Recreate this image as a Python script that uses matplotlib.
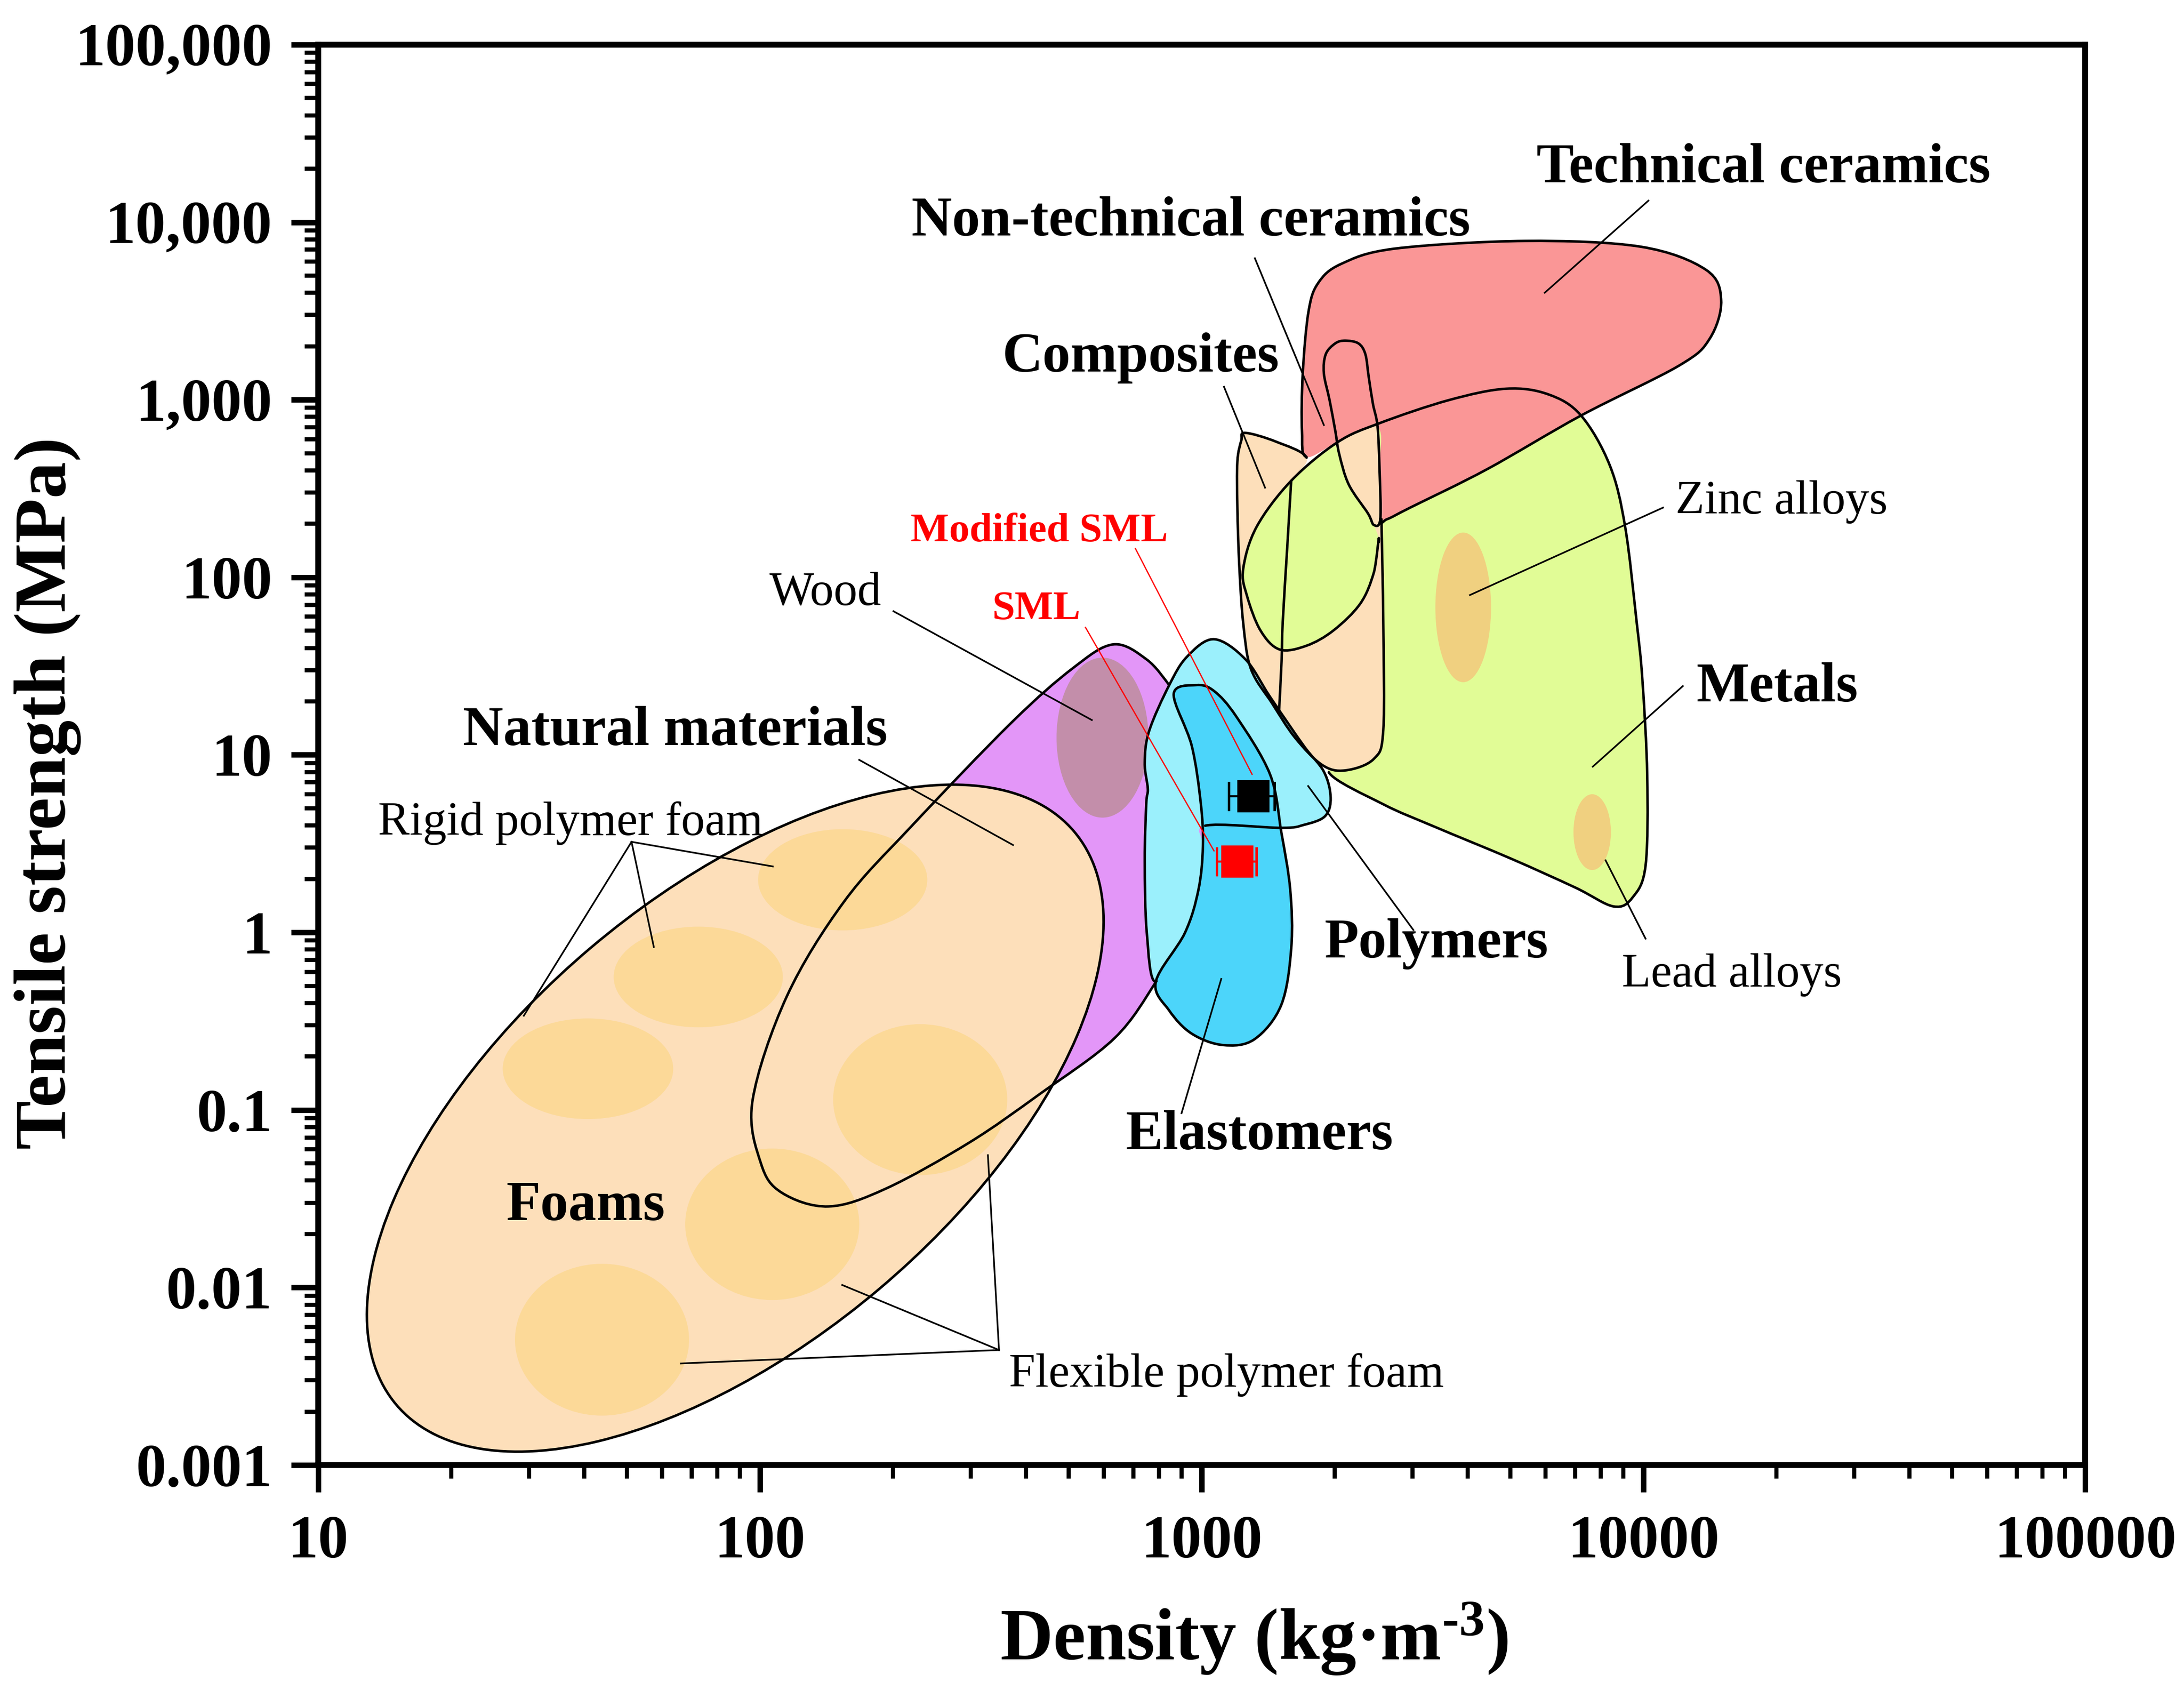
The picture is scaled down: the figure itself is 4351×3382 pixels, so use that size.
import numpy as np
import matplotlib
matplotlib.use('Agg')
import matplotlib.pyplot as plt
from matplotlib.path import Path
from matplotlib.patches import PathPatch
from matplotlib.transforms import Affine2D
from matplotlib.ticker import LogLocator, NullFormatter

plt.rcParams['font.family'] = ['Liberation Serif', 'DejaVu Serif']
plt.rcParams['mathtext.fontset'] = 'custom'
plt.rcParams['mathtext.rm'] = 'Liberation Serif:bold'
plt.rcParams['mathtext.bf'] = 'Liberation Serif:bold'
plt.rcParams['mathtext.it'] = 'Liberation Serif:bold:italic'

# axis ticks
x_ticks = [10, 100, 1000, 10000, 100000]
x_tick_labels = ['10', '100', '1000', '10000', '100000']
y_ticks = [1e-3, 1e-2, 1e-1, 1, 10, 100, 1e3, 1e4, 1e5]
y_tick_labels = ['0.001', '0.01', '0.1', '1', '10', '100', '1,000', '10,000', '100,000']

# foams envelope: centre (density, strength), semi-axes in x-decade lengths, tilt in degrees
foams = (87.9, 0.0899, 1.0046, 0.5056, 40.2)

# rigid / flexible foam cells: centre, width and height in decades
cell_density = [153.9, 72.5, 40.8, 230.5, 106.6, 43.9]
cell_strength = [1.978, 0.561, 0.1706, 0.1143, 0.0227, 0.00508]
cell_w = [0.383, 0.383, 0.386, 0.394, 0.394, 0.394]
cell_h = [0.570, 0.567, 0.567, 0.850, 0.853, 0.855]

# region outlines: density (kg/m3), tensile strength (MPa)
natural_density = [790, 635, 430, 298, 193, 143, 112, 100.5, 96.2, 115, 155, 220, 371, 511,
                   631, 751, 843, 864, 949, 995, 1006, 983, 916]
natural_strength = [0.532, 0.254, 0.123, 0.0656, 0.0361, 0.0286, 0.0342, 0.050, 0.113, 0.436,
                    1.49, 3.95, 15.2, 30.8, 41.9, 34.4, 24.8, 22.0, 11.26, 5.33, 3.05, 1.74, 0.994]

wood = (596, 12.5, 0.208, 0.901)
zinc = (3907, 67.7, 0.126, 0.843)
lead = (7653, 3.67, 0.0848, 0.427)

elast_density = [971, 1066, 1198, 1428, 1514, 1586, 1595, 1514, 1316, 1117, 949, 844, 787,
                 916, 983, 1006, 995, 949, 864]
elast_strength = [24.7, 22.9, 16.4, 7.75, 3.67, 1.74, 0.825, 0.391, 0.250, 0.232, 0.269,
                  0.363, 0.527, 0.994, 1.74, 3.05, 5.33, 11.26, 22.0]

poly_density = [787, 751, 743, 749, 755, 743, 760, 844, 927, 1066, 1256, 1428, 1701, 1890,
                1958, 1901, 1701, 1514, 1018, 1006, 983, 916]
poly_strength = [0.527, 0.994, 2.53, 5.33, 6.43, 9.0, 13.6, 24.7, 35.8, 44.8, 34.5, 21.2,
                 11.26, 8.04, 5.75, 4.51, 4.03, 3.88, 3.99, 3.05, 1.74, 0.994]

metal_density = [2516, 2451, 2285, 1987, 1727, 1501, 1358, 1266, 1241, 1331, 1594, 2027, 2526,
                 3621, 4889, 6090, 7221, 8389, 9088, 9652, 9942, 10195, 10110, 9459, 8558,
                 7003, 5017, 3363, 2575, 1939, 2200, 2400]
metal_strength = [157.7, 105.9, 71.1, 50.2, 41.2, 39.2, 50.2, 78.6, 111.3, 192.4, 349.8, 575.3,
                  737.9, 994.5, 1154, 1072, 815, 426.7, 192.4, 55.5, 26.5, 7.65, 2.39, 1.58,
                  1.40, 1.79, 2.60, 3.94, 5.27, 7.98, 10.5, 30]

comp_density = [2551, 2576, 2576, 2451, 2110, 1871, 1626, 1443, 1292, 1241, 1216, 1204, 1204,
                1229, 1254, 1472, 1727, 1594, 1331, 1241, 1266, 1358, 1501, 1727, 1987, 2285,
                2451, 2516, 2451, 2378, 2152, 2047, 2027, 2285, 2500, 2536]
comp_strength = [212.6, 55.5, 13.8, 9.48, 8.17, 8.79, 12.5, 19.5, 30.5, 55.5, 117, 247, 448.5,
                 589.7, 651, 581, 471.5, 349.8, 192.4, 111.3, 78.6, 50.2, 39.2, 41.2, 50.2,
                 71.1, 105.9, 157.7, 197.3, 229.1, 332.8, 495.5, 575.3, 668, 708.9, 406]

tech_density = [1727, 1686, 1693, 1744, 1834, 2068, 2736, 5402, 9846, 13836, 14990, 14115,
                12030, 7221, 4423, 2964, 2629, 2536, 2526, 2500, 2027]
tech_strength = [476, 668, 1409, 3124, 4538, 5821, 7100, 7844, 7280, 5402, 3627, 2205, 1556,
                 815, 406, 246.9, 212.6, 214.7, 406, 702, 575.3]

nontech_density = [2110, 2262, 2346, 2388, 2441, 2500, 2526, 2536, 2451, 2378, 2152, 2047,
                   2006, 1947, 1890, 1909, 2006]
nontech_strength = [2151, 2078, 1807, 1341, 946, 708.9, 406, 212.6, 197.3, 229.1, 332.8, 495.5,
                    668, 994.5, 1409, 1807, 2078]

split_density = [1594, 1562, 1525, 1516, 1495]
split_strength = [349.8, 150.1, 55.5, 33.7, 16.97]

# measured samples
sml_density = [1203]
sml_strength = [2.51]
sml_err = [[122], [128]]
mod_density = [1308]
mod_strength = [5.83]
mod_err = [[158], [153]]


def blob(xs, ys, closed=True):
  # Catmull-Rom curve through the points, smooth in log-log space
  p = np.column_stack([np.log10(xs), np.log10(ys)])
  n = len(p)
  if closed:
    idx = lambda i: i % n
    nseg = n
  else:
    idx = lambda i: min(max(i, 0), n - 1)
    nseg = n - 1
  verts = [p[0]]
  for i in range(nseg):
    p0, p1, p2, p3 = p[idx(i - 1)], p[idx(i)], p[idx(i + 1)], p[idx(i + 2)]
    verts += [p1 + (p2 - p0) / 6, p2 - (p3 - p1) / 6, p2]
  return 10 ** np.array(verts)


def curve(verts):
  return Path(verts, [Path.MOVETO] + [Path.CURVE4] * (len(verts) - 1))


def fill(ax, verts, color, z):
  ax.add_patch(PathPatch(curve(verts), facecolor=color, edgecolor='none', zorder=z))


def edge(ax, verts, nseg=None):
  if nseg is not None:
    verts = verts[:1 + 3 * nseg]
  ax.add_patch(PathPatch(curve(verts), facecolor='none', edgecolor='black', lw=1.2,
                         joinstyle='round', capstyle='round', zorder=3))


def oval(ax, cx, cy, w, h, color, z):
  uc = Path.unit_circle()
  v = uc.vertices * [w / 2, h / 2] + [np.log10(cx), np.log10(cy)]
  ax.add_patch(PathPatch(Path(10 ** v, uc.codes), facecolor=color, edgecolor='none', zorder=z))


def tilted_oval(ax, cx, cy, a, b, angle, **kw):
  # ellipse that is tilted on screen; a, b measured in x-decade lengths
  pos = ax.get_position()
  fig = ax.figure
  xdec = np.log10(ax.get_xlim()[1] / ax.get_xlim()[0])
  ydec = np.log10(ax.get_ylim()[1] / ax.get_ylim()[0])
  r = (fig.get_figwidth() * pos.width / xdec) / (fig.get_figheight() * pos.height / ydec)
  tr = Affine2D().scale(a, b).rotate_deg(angle).scale(1, r).translate(np.log10(cx), np.log10(cy))
  uc = Path.unit_circle()
  ax.add_patch(PathPatch(Path(10 ** tr.transform(uc.vertices), uc.codes), **kw))


fig = plt.figure(figsize=(4351 / 300, 3382 / 300))
ax = fig.add_axes([0.1457, 0.1372, 0.8091, 0.8365])
ax.set_xscale('log')
ax.set_yscale('log')
ax.set_xlim(10, 1e5)
ax.set_ylim(1e-3, 1e5)

natural = blob(natural_density, natural_strength)
metals = blob(metal_density, metal_strength)
comp = blob(comp_density, comp_strength)
tech = blob(tech_density, tech_strength)
poly = blob(poly_density, poly_strength)
elast = blob(elast_density, elast_strength)
nontech = blob(nontech_density, nontech_strength)
split = blob(split_density, split_strength, closed=False)

# fills, back to front
fill(ax, natural, '#E396F8', 1.0)
oval(ax, *wood, '#C38EAA', 1.1)
tilted_oval(ax, *foams, facecolor='#FDDFBA', edgecolor='none', zorder=1.2)
for cx, cy, w, h in zip(cell_density, cell_strength, cell_w, cell_h):
  oval(ax, cx, cy, w, h, '#FCD998', 1.3)
fill(ax, metals, '#E1FC96', 1.4)
oval(ax, *zinc, '#F0D080', 1.5)
oval(ax, *lead, '#F0D080', 1.5)
fill(ax, comp, '#FDDFBA', 1.6)
fill(ax, tech, '#FA9696', 1.7)
fill(ax, poly, '#9BF0FC', 1.8)
fill(ax, elast, '#4CD5FA', 1.9)

# outlines
tilted_oval(ax, *foams, facecolor='none', edgecolor='black', lw=1.2, zorder=3)
edge(ax, natural, 16)
edge(ax, metals, 29)
edge(ax, comp, 16)
edge(ax, tech, 17)
edge(ax, nontech)
edge(ax, split)
edge(ax, poly, 18)
edge(ax, elast)

# samples
ax.errorbar(mod_density, mod_strength, xerr=mod_err, fmt='s', color='black', ms=14.5,
            capsize=7, elinewidth=1.0, capthick=1.2, zorder=5)
ax.errorbar(sml_density, sml_strength, xerr=sml_err, fmt='s', color='red', ms=14.5,
            capsize=7, elinewidth=1.0, capthick=1.2, zorder=5)

# leader lines
lk = dict(color='black', lw=0.8, zorder=4)
ax.plot([10261, 5976], [13230, 4006], **lk)
ax.plot([1319, 1890], [6266, 720], **lk)
ax.plot([1123, 1391], [1183, 319.7], **lk)
ax.plot([11074, 4045], [246.9, 79.4], **lk)
ax.plot([12277, 7676], [24.4, 8.58], **lk)
ax.plot([8205, 10107], [2.547, 0.922], **lk)
ax.plot([1741, 3014], [6.674, 1.031], **lk)
ax.plot([1107, 900], [0.547, 0.0958], **lk)
ax.plot([200.5, 564], [64.4, 15.7], **lk)
ax.plot([167.7, 374], [9.37, 3.105], **lk)
for x, y in [(106.9, 2.352), (57.5, 0.8275), (29.2, 0.3393)]:
  ax.plot([51.2, x], [3.237, y], **lk)
for x, y in [(328, 0.0556), (153.5, 0.01033), (66.2, 0.003733)]:
  ax.plot([347.6, x], [0.004446, y], **lk)
ax.plot([545.6, 1066], [52.2, 2.879], color='red', lw=0.6, zorder=4)
ax.plot([707.9, 1300], [145, 7.77], color='red', lw=0.6, zorder=4)

# labels
bold = dict(fontsize=26.8, fontweight='bold', ha='left', va='baseline', zorder=6)
thin = dict(fontsize=22.7, ha='left', va='baseline', zorder=6)
red = dict(fontsize=19.5, fontweight='bold', color='red', ha='left', va='baseline', zorder=6)
ax.text(5730, 16750, 'Technical ceramics', **bold)
ax.text(220.2, 8438, 'Non-technical ceramics', **bold)
ax.text(353, 1440, 'Composites', **bold)
ax.text(13170, 20.0, 'Metals', **bold)
ax.text(21.27, 11.33, 'Natural materials', **bold)
ax.text(1891, 0.7226, 'Polymers', **bold)
ax.text(672, 0.05989, 'Elastomers', **bold)
ax.text(26.63, 0.02394, 'Foams', **bold)
ax.text(11806, 228.5, 'Zinc alloys', **thin)
ax.text(105, 69.9, 'Wood', **thin)
ax.text(13.66, 3.54, 'Rigid polymer foam', **thin)
ax.text(8920, 0.4949, 'Lead alloys', **thin)
ax.text(366, 0.002767, 'Flexible polymer foam', **thin)
ax.text(219.2, 159.3, 'Modified SML', **red)
ax.text(335.5, 58.0, 'SML', **red)

# axes styling
ax.set_xticks(x_ticks)
ax.set_xticklabels(x_tick_labels, fontsize=29, fontweight='bold')
ax.set_yticks(y_ticks)
ax.set_yticklabels(y_tick_labels, fontsize=29, fontweight='bold')
ax.xaxis.set_minor_locator(LogLocator(base=10, subs=np.arange(2, 10), numticks=50))
ax.yaxis.set_minor_locator(LogLocator(base=10, subs=np.arange(2, 10), numticks=50))
ax.xaxis.set_minor_formatter(NullFormatter())
ax.yaxis.set_minor_formatter(NullFormatter())
ax.tick_params(which='major', direction='out', length=13, width=2.6)
ax.tick_params(which='minor', direction='out', length=6.5, width=2.0)
ax.tick_params(axis='x', which='major', pad=11)
ax.tick_params(axis='y', which='major', pad=9)
for s in ax.spines.values():
  s.set_linewidth(2.8)

ax.set_xlabel(r'Density (kg·m$^{\text{-3}}$)', fontsize=35, fontweight='bold')
ax.set_ylabel('Tensile strength (MPa)', fontsize=35, fontweight='bold')
ax.xaxis.set_label_coords(0.5296, -0.0956)
ax.yaxis.set_label_coords(-0.134, 0.473)

fig.savefig('out.png', dpi=300)
